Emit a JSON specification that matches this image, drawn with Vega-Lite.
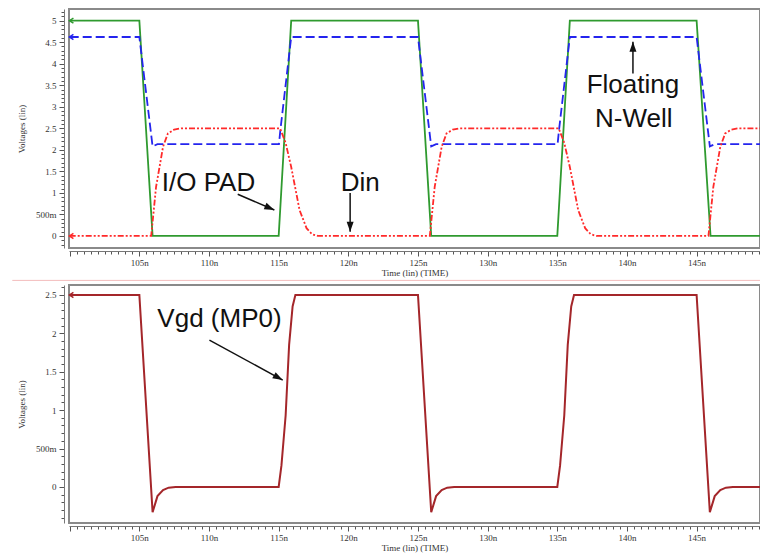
{
  "$schema": "https://vega.github.io/schema/vega-lite/v6.json",
  "background": "white",
  "padding": {"left": 10, "top": 7, "right": 0, "bottom": 0},
  "spacing": 37,
  "bounds": "flush",
  "config": {
    "view": {"stroke": "#8a8a8a", "strokeWidth": 2},
    "axis": {
      "grid": false,
      "labelFont": "Liberation Serif",
      "labelFontSize": 9,
      "labelColor": "#333",
      "titleFont": "Liberation Serif",
      "titleFontSize": 9,
      "titleFontWeight": "normal",
      "titleColor": "#333",
      "domainColor": "#777",
      "tickColor": "#555",
      "labelOverlap": false,
      "labelFlush": false
    }
  },
  "datasets": {
    "top": [
      {"s": "pad", "t": 100, "v": 5}, {"s": "pad", "t": 105, "v": 5}, {"s": "pad", "t": 105.95, "v": 0}, {"s": "pad", "t": 115, "v": 0}, {"s": "pad", "t": 115.9, "v": 5}, {"s": "pad", "t": 125, "v": 5}, {"s": "pad", "t": 125.95, "v": 0}, {"s": "pad", "t": 135, "v": 0}, {"s": "pad", "t": 135.9, "v": 5}, {"s": "pad", "t": 145, "v": 5}, {"s": "pad", "t": 146, "v": 0}, {"s": "pad", "t": 149.55, "v": 0},
      {"s": "nwell", "t": 100, "v": 4.62}, {"s": "nwell", "t": 105, "v": 4.62}, {"s": "nwell", "t": 105.95, "v": 2.08}, {"s": "nwell", "t": 106.3, "v": 2.13}, {"s": "nwell", "t": 115.02, "v": 2.13}, {"s": "nwell", "t": 115.12, "v": 2.45}, {"s": "nwell", "t": 115.9, "v": 4.62}, {"s": "nwell", "t": 125, "v": 4.62}, {"s": "nwell", "t": 125.95, "v": 2.08}, {"s": "nwell", "t": 126.3, "v": 2.13}, {"s": "nwell", "t": 135.02, "v": 2.13}, {"s": "nwell", "t": 135.12, "v": 2.45}, {"s": "nwell", "t": 135.9, "v": 4.62}, {"s": "nwell", "t": 145, "v": 4.62}, {"s": "nwell", "t": 145.95, "v": 2.08}, {"s": "nwell", "t": 146.3, "v": 2.13}, {"s": "nwell", "t": 149.55, "v": 2.13},
      {"s": "din", "t": 100, "v": 0}, {"s": "din", "t": 105.85, "v": 0}, {"s": "din", "t": 106.2, "v": 1.14}, {"s": "din", "t": 106.7, "v": 2.07}, {"s": "din", "t": 107.05, "v": 2.38}, {"s": "din", "t": 107.5, "v": 2.47}, {"s": "din", "t": 108, "v": 2.5}, {"s": "din", "t": 115.1, "v": 2.5}, {"s": "din", "t": 115.5, "v": 2.16}, {"s": "din", "t": 115.9, "v": 1.6}, {"s": "din", "t": 116.5, "v": 0.6}, {"s": "din", "t": 117, "v": 0.18}, {"s": "din", "t": 117.4, "v": 0.04}, {"s": "din", "t": 117.8, "v": 0},
      {"s": "din", "t": 125.85, "v": 0}, {"s": "din", "t": 126.2, "v": 1.14}, {"s": "din", "t": 126.7, "v": 2.07}, {"s": "din", "t": 127.05, "v": 2.38}, {"s": "din", "t": 127.5, "v": 2.47}, {"s": "din", "t": 128, "v": 2.5}, {"s": "din", "t": 135.1, "v": 2.5}, {"s": "din", "t": 135.5, "v": 2.16}, {"s": "din", "t": 135.9, "v": 1.6}, {"s": "din", "t": 136.5, "v": 0.6}, {"s": "din", "t": 137, "v": 0.18}, {"s": "din", "t": 137.4, "v": 0.04}, {"s": "din", "t": 137.8, "v": 0},
      {"s": "din", "t": 145.85, "v": 0}, {"s": "din", "t": 146.2, "v": 1.14}, {"s": "din", "t": 146.7, "v": 2.07}, {"s": "din", "t": 147.05, "v": 2.38}, {"s": "din", "t": 147.5, "v": 2.47}, {"s": "din", "t": 148, "v": 2.5}, {"s": "din", "t": 149.55, "v": 2.5}
    ],
    "bottom": [
      {"s": "vgd", "t": 100, "v": 2.5}, {"s": "vgd", "t": 105, "v": 2.5}, {"s": "vgd", "t": 105.95, "v": -0.33}, {"s": "vgd", "t": 106.3, "v": -0.12}, {"s": "vgd", "t": 106.7, "v": -0.04}, {"s": "vgd", "t": 107.1, "v": -0.01}, {"s": "vgd", "t": 107.6, "v": 0}, {"s": "vgd", "t": 115, "v": 0}, {"s": "vgd", "t": 115.2, "v": 0.28}, {"s": "vgd", "t": 115.5, "v": 0.93}, {"s": "vgd", "t": 115.75, "v": 1.85}, {"s": "vgd", "t": 116, "v": 2.35}, {"s": "vgd", "t": 116.2, "v": 2.5},
      {"s": "vgd", "t": 125, "v": 2.5}, {"s": "vgd", "t": 125.95, "v": -0.33}, {"s": "vgd", "t": 126.3, "v": -0.12}, {"s": "vgd", "t": 126.7, "v": -0.04}, {"s": "vgd", "t": 127.1, "v": -0.01}, {"s": "vgd", "t": 127.6, "v": 0}, {"s": "vgd", "t": 135, "v": 0}, {"s": "vgd", "t": 135.2, "v": 0.28}, {"s": "vgd", "t": 135.5, "v": 0.93}, {"s": "vgd", "t": 135.75, "v": 1.85}, {"s": "vgd", "t": 136, "v": 2.35}, {"s": "vgd", "t": 136.2, "v": 2.5},
      {"s": "vgd", "t": 145, "v": 2.5}, {"s": "vgd", "t": 145.95, "v": -0.33}, {"s": "vgd", "t": 146.3, "v": -0.12}, {"s": "vgd", "t": 146.7, "v": -0.04}, {"s": "vgd", "t": 147.1, "v": -0.01}, {"s": "vgd", "t": 147.6, "v": 0}, {"s": "vgd", "t": 149.55, "v": 0}
    ],
    "probes": [
      {"p": "top", "s": "pad", "t": 99.98, "v": 5},
      {"p": "top", "s": "nwell", "t": 99.98, "v": 4.62},
      {"p": "top", "s": "din", "t": 99.98, "v": 0},
      {"p": "bottom", "s": "vgd", "t": 99.98, "v": 2.5}
    ],
    "notes": [
      {"p": "top", "label": "I/O PAD", "t": 109.96, "v": 1.05},
      {"p": "top", "label": "Din", "t": 120.85, "v": 1.05},
      {"p": "top", "label": "Floating", "t": 140.43, "v": 3.31},
      {"p": "top", "label": "N-Well", "t": 140.49, "v": 2.54},
      {"p": "bottom", "label": "Vgd (MP0)", "t": 110.75, "v": 2.086}
    ],
    "arrows": [
      {"p": "top", "a": "pad", "t1": 112.06, "v1": 0.967, "t2": 114.69, "v2": 0.603},
      {"p": "top", "a": "din", "t1": 120.13, "v1": 0.998, "t2": 120.13, "v2": 0.1},
      {"p": "top", "a": "nwell", "t1": 140.43, "v1": 3.775, "t2": 140.43, "v2": 4.508},
      {"p": "bottom", "a": "vgd", "t1": 110.03, "v1": 1.913, "t2": 115.29, "v2": 1.391}
    ],
    "sep": [
      {"t1": 95.88, "t2": 152, "v": 2.69}
    ]
  },
  "vconcat": [
    {
      "width": 691,
      "height": 239,
      "layer": [
        {
          "data": {"name": "top"},
          "mark": {"type": "line", "clip": true, "strokeWidth": 1.8},
          "encoding": {
            "x": {
              "field": "t", "type": "quantitative",
              "scale": {"domain": [99.95, 149.55], "nice": false, "zero": false},
              "axis": {
                "title": "Time (lin) (TIME)",
                "tickCount": 100,
                "labelExpr": "datum.value % 5 == 0 && datum.value > 100 ? datum.value + 'n' : ''",
                "tickSize": {"condition": {"test": "datum.value % 5 == 0", "value": 5}, "value": 3},
                "offset": 3,
                "labelPadding": 2,
                "titlePadding": 1
              }
            },
            "y": {
              "field": "v", "type": "quantitative",
              "scale": {"domain": [-0.28, 5.27], "nice": false, "zero": false},
              "axis": {
                "title": "Voltages (lin)",
                "tickCount": 60,
                "labelExpr": "abs(datum.value*2 - round(datum.value*2)) < 1e-6 ? (abs(datum.value - 0.5) < 1e-6 ? '500m' : format(datum.value, '~g')) : ''",
                "tickSize": {"condition": {"test": "abs(datum.value*2 - round(datum.value*2)) < 1e-6", "value": 5}, "value": 3},
                "offset": 5,
                "labelPadding": 3,
                "titlePadding": 9
              }
            },
            "color": {
              "field": "s", "type": "nominal",
              "scale": {"domain": ["pad", "nwell", "din"], "range": ["#2f9a2f", "#2424ee", "#ff2a2a"]},
              "legend": null
            },
            "strokeDash": {
              "field": "s", "type": "nominal",
              "scale": {"domain": ["pad", "nwell", "din"], "range": [[1, 0], [9, 4], [6, 2, 2, 2, 2, 2]]},
              "legend": null
            }
          }
        },
        {
          "data": {"name": "probes"},
          "transform": [{"filter": "datum.p == 'top'"}],
          "mark": {"type": "point", "shape": "M2,-1.3 L0,0 L2,1.3", "filled": false, "size": 16, "strokeWidth": 1.5, "opacity": 1},
          "encoding": {
            "x": {"field": "t", "type": "quantitative"},
            "y": {"field": "v", "type": "quantitative"},
            "color": {"field": "s", "type": "nominal", "legend": null}
          }
        },
        {
          "data": {"name": "notes"},
          "transform": [{"filter": "datum.p == 'top'"}],
          "mark": {"type": "text", "font": "Liberation Sans", "fontSize": 26, "align": "center", "baseline": "alphabetic", "color": "#111"},
          "encoding": {
            "x": {"field": "t", "type": "quantitative"},
            "y": {"field": "v", "type": "quantitative"},
            "text": {"field": "label"}
          }
        },
        {
          "data": {"name": "arrows"},
          "transform": [{"filter": "datum.p == 'top'"}],
          "mark": {"type": "rule", "color": "#111", "strokeWidth": 1.5},
          "encoding": {
            "x": {"field": "t1", "type": "quantitative"},
            "y": {"field": "v1", "type": "quantitative"},
            "x2": {"field": "t2"},
            "y2": {"field": "v2"}
          }
        },
        {
          "data": {"name": "arrows"},
          "transform": [{"filter": "datum.p == 'top'"}],
          "mark": {"type": "point", "shape": "M0,0 L-2,-0.7 L-2,0.7 Z", "filled": true, "size": 100, "color": "#111", "opacity": 1},
          "encoding": {
            "x": {"field": "t2", "type": "quantitative"},
            "y": {"field": "v2", "type": "quantitative"},
            "angle": {"condition": [{"test": "datum.a == 'pad'", "value": 23}, {"test": "datum.a == 'din'", "value": 90}], "value": 270}
          }
        }
      ]
    },
    {
      "width": 691,
      "height": 238,
      "layer": [
        {
          "data": {"name": "sep"},
          "mark": {"type": "rule", "color": "#f3bcbc", "strokeWidth": 1, "clip": false},
          "encoding": {
            "x": {"field": "t1", "type": "quantitative"},
            "x2": {"field": "t2"},
            "y": {"field": "v", "type": "quantitative"}
          }
        },
        {
          "data": {"name": "bottom"},
          "mark": {"type": "line", "clip": true, "strokeWidth": 2, "color": "#a4262a"},
          "encoding": {
            "x": {
              "field": "t", "type": "quantitative",
              "scale": {"domain": [99.95, 149.55], "nice": false, "zero": false},
              "axis": {
                "title": "Time (lin) (TIME)",
                "tickCount": 100,
                "labelExpr": "datum.value % 5 == 0 && datum.value > 100 ? datum.value + 'n' : ''",
                "tickSize": {"condition": {"test": "datum.value % 5 == 0", "value": 5}, "value": 3},
                "offset": 3,
                "labelPadding": 2,
                "titlePadding": 1
              }
            },
            "y": {
              "field": "v", "type": "quantitative",
              "scale": {"domain": [-0.47, 2.63], "nice": false, "zero": false},
              "axis": {
                "title": "Voltages (lin)",
                "tickCount": 31,
                "labelExpr": "abs(datum.value*2 - round(datum.value*2)) < 1e-6 ? (abs(datum.value - 0.5) < 1e-6 ? '500m' : format(datum.value, '~g')) : ''",
                "tickSize": {"condition": {"test": "abs(datum.value*2 - round(datum.value*2)) < 1e-6", "value": 5}, "value": 3},
                "offset": 5,
                "labelPadding": 3,
                "titlePadding": 9
              }
            }
          }
        },
        {
          "data": {"name": "probes"},
          "transform": [{"filter": "datum.p == 'bottom'"}],
          "mark": {"type": "point", "shape": "M2,-1.3 L0,0 L2,1.3", "filled": false, "size": 16, "strokeWidth": 1.5, "opacity": 1, "color": "#a4262a"},
          "encoding": {
            "x": {"field": "t", "type": "quantitative"},
            "y": {"field": "v", "type": "quantitative"}
          }
        },
        {
          "data": {"name": "notes"},
          "transform": [{"filter": "datum.p == 'bottom'"}],
          "mark": {"type": "text", "font": "Liberation Sans", "fontSize": 26, "align": "center", "baseline": "alphabetic", "color": "#111"},
          "encoding": {
            "x": {"field": "t", "type": "quantitative"},
            "y": {"field": "v", "type": "quantitative"},
            "text": {"field": "label"}
          }
        },
        {
          "data": {"name": "arrows"},
          "transform": [{"filter": "datum.p == 'bottom'"}],
          "mark": {"type": "rule", "color": "#111", "strokeWidth": 1.5},
          "encoding": {
            "x": {"field": "t1", "type": "quantitative"},
            "y": {"field": "v1", "type": "quantitative"},
            "x2": {"field": "t2"},
            "y2": {"field": "v2"}
          }
        },
        {
          "data": {"name": "arrows"},
          "transform": [{"filter": "datum.p == 'bottom'"}],
          "mark": {"type": "point", "shape": "M0,0 L-2,-0.7 L-2,0.7 Z", "filled": true, "size": 100, "color": "#111", "opacity": 1, "angle": 29},
          "encoding": {
            "x": {"field": "t2", "type": "quantitative"},
            "y": {"field": "v2", "type": "quantitative"}
          }
        }
      ]
    }
  ]
}
